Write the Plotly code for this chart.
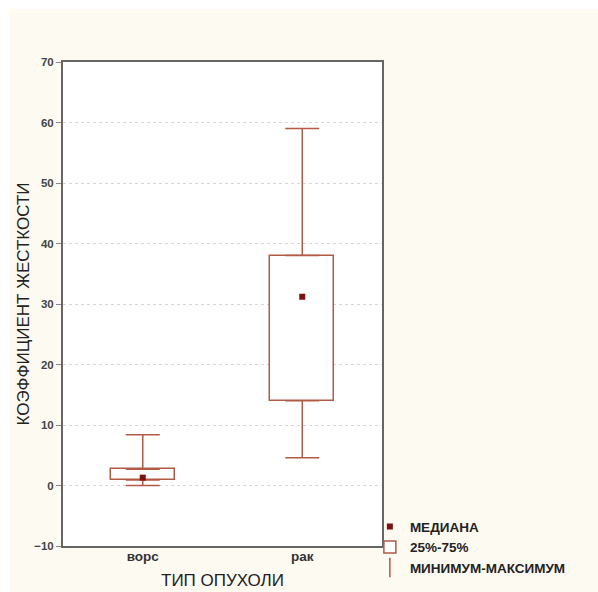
import plotly.graph_objects as go

# Stiffness coefficient by tumour type: min, quartiles, median, max
categories = ["ворс", "рак"]
mins = [0.0, 4.6]
q1 = [0.9, 14.0]
medians = [1.3, 31.2]
q3 = [2.7, 38.0]
maxs = [8.4, 59.0]

y_ticks = [-10, 0, 10, 20, 30, 40, 50, 60, 70]

BOX_COLOR = "#b35a47"
MEDIAN_COLOR = "#7a1212"
BG = "#fdfaf2"

W, H = 598, 592
ML, MR, MT, MB = 63, 216, 62, 46
PW, PH = W - ML - MR, H - MT - MB

fig = go.Figure()

# interquartile box
fig.add_trace(go.Bar(
    x=categories,
    y=[b - a for a, b in zip(q1, q3)],
    base=q1,
    width=0.4,
    marker=dict(color="white", line=dict(color=BOX_COLOR, width=1.5)),
    name="25%-75%",
    showlegend=True,
    legendrank=2,
))

# upper whisker: from Q3 up to the maximum
fig.add_trace(go.Scatter(
    x=categories, y=q3, mode="markers",
    marker=dict(size=0.1, color="rgba(0,0,0,0)"),
    error_y=dict(type="data", symmetric=False,
                 array=[mx - b for mx, b in zip(maxs, q3)],
                 arrayminus=[0, 0],
                 color=BOX_COLOR, thickness=1.5, width=17),
    showlegend=False, hoverinfo="skip",
))

# lower whisker: from Q1 down to the minimum
fig.add_trace(go.Scatter(
    x=categories, y=q1, mode="markers",
    marker=dict(size=0.1, color="rgba(0,0,0,0)"),
    error_y=dict(type="data", symmetric=False,
                 array=[0, 0],
                 arrayminus=[a - mn for a, mn in zip(q1, mins)],
                 color=BOX_COLOR, thickness=1.5, width=17),
    showlegend=False, hoverinfo="skip",
))

# median point
fig.add_trace(go.Scatter(
    x=categories, y=medians, mode="markers",
    marker=dict(symbol="square", size=6, color=MEDIAN_COLOR),
    name="МЕДИАНА",
    legendrank=1,
))

# legend entry for the whisker range
fig.add_trace(go.Scatter(
    x=[None], y=[None], mode="markers",
    marker=dict(symbol="line-ns-open", size=14, color=BOX_COLOR,
                line=dict(color=BOX_COLOR, width=1.5)),
    name="МИНИМУМ-МАКСИМУМ",
    legendrank=3,
))

# thin white page margin along the top and left edges
fig.add_shape(type="rect", xref="paper", yref="paper", layer="below",
              x0=-ML / PW, x1=(10 - ML) / PW, y0=-MB / PH, y1=(H - MB) / PH,
              fillcolor="white", line=dict(width=0))
fig.add_shape(type="rect", xref="paper", yref="paper", layer="below",
              x0=-ML / PW, x1=(W - ML) / PW, y0=(H - MB - 9) / PH, y1=(H - MB) / PH,
              fillcolor="white", line=dict(width=0))

fig.update_layout(
    width=W, height=H,
    margin=dict(l=ML, r=MR, t=MT, b=MB, autoexpand=False),
    paper_bgcolor=BG,
    plot_bgcolor="white",
    font=dict(family="Liberation Sans, Arial, sans-serif", color="#333"),
    bargap=0,
    showlegend=True,
    legend=dict(
        x=0.962, y=0.072, xanchor="left", yanchor="top",
        bgcolor="rgba(0,0,0,0)",
        font=dict(size=13.5, color="#222", weight="bold"),
        tracegroupgap=0, itemwidth=30,
    ),
    xaxis=dict(
        range=[-0.5, 1.5],
        automargin=False,
        showline=True, linecolor="#666", linewidth=2, mirror=True,
        ticks="", ticklabelstandoff=-3,
        tickfont=dict(size=13.5, color="#333", weight="bold"),
        showgrid=False,
        title=dict(text="ТИП ОПУХОЛИ", font=dict(size=17, color="#222"), standoff=11),
    ),
    yaxis=dict(
        range=[-10, 70],
        automargin=False,
        tickvals=y_ticks,
        showline=True, linecolor="#666", linewidth=2, mirror=True,
        ticks="outside", ticklen=5, tickcolor="#888",
        tickfont=dict(size=11.5, color="#444", weight="bold"),
        showgrid=True, gridcolor="#d8d8d8", griddash="dot", gridwidth=1,
        zeroline=False,
        title=dict(text="КОЭФФИЦИЕНТ ЖЕСТКОСТИ", font=dict(size=17, color="#222"), standoff=0),
    ),
)

fig.write_html("out.html")
